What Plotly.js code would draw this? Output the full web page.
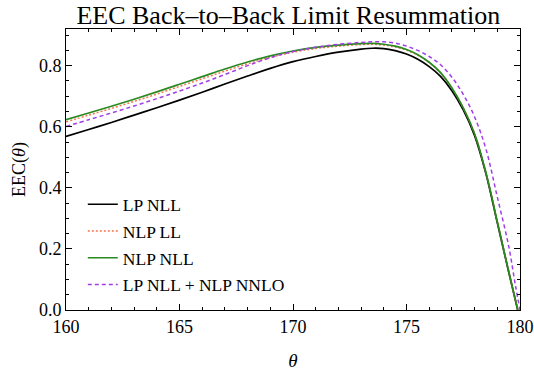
<!DOCTYPE html>
<html>
<head>
<meta charset="utf-8">
<script src="https://cdn.plot.ly/plotly-3.0.1.min.js"></script>
<style>html,body{margin:0;padding:0;background:#fff;}#chart{width:534px;height:378px;}</style>
</head>
<body>
<div id="chart"></div>
<script>
var theta = [160,161,162,163,164,165,166,167,168,169,170,171,172,173,173.5,174,174.5,175,175.5,176,176.5,177,177.5,178,178.5,179,179.5,179.9];
var lpNLL = [0.568,0.591,0.614,0.638,0.662,0.687,0.713,0.740,0.766,0.791,0.813,0.830,0.844,0.854,0.857,0.856,0.849,0.838,0.821,0.797,0.765,0.718,0.655,0.571,0.446,0.286,0.125,0.0];
var nlpLL = [0.616,0.638,0.660,0.683,0.707,0.732,0.757,0.782,0.806,0.827,0.844,0.856,0.864,0.869,0.870,0.867,0.861,0.851,0.834,0.810,0.776,0.727,0.662,0.577,0.450,0.289,0.127,0.0];
var nlpNLL = [0.623,0.645,0.667,0.690,0.714,0.739,0.764,0.789,0.812,0.832,0.848,0.860,0.867,0.872,0.873,0.870,0.864,0.853,0.836,0.811,0.777,0.727,0.662,0.577,0.450,0.289,0.127,0.0];
var thetaP = [160,161,162,163,164,165,166,167,168,169,170,171,172,173,173.5,174,174.5,175,175.5,176,176.5,177,177.5,178,178.5,179,179.5,179.8,180];
var lpNLLnlpNNLO = [0.601,0.623,0.645,0.668,0.692,0.717,0.743,0.771,0.800,0.826,0.846,0.860,0.870,0.876,0.878,0.878,0.874,0.864,0.850,0.830,0.803,0.762,0.706,0.632,0.527,0.370,0.210,0.080,0.0];
var names = ["LP NLL","NLP LL","NLP NLL","LP NLL + NLP NNLO"];

var serif = "Liberation Serif, Times New Roman, serif";
var traces = [
  {x: theta, y: lpNLL, name: names[0], line:{color:"#000000", width:1.7}},
  {x: theta, y: nlpLL, name: names[1], line:{color:"#f4764f", width:1.5, dash:"2px,2px"}},
  {x: theta, y: nlpNLL, name: names[2], line:{color:"#2a8a22", width:1.7}},
  {x: thetaP, y: lpNLLnlpNNLO, name: names[3], line:{color:"#a23ee8", width:1.5, dash:"4px,3px"}}
].map(function(t,i){t.type="scatter";t.mode="lines";t.line.shape="spline";t.legendgroup="g"+i;return t;});

var axCommon = {
  showline:true, mirror:"ticks", linecolor:"#000", linewidth:1,
  ticks:"inside", ticklen:6, tickwidth:1, tickcolor:"#000",
  showgrid:false, zeroline:false,
  tickfont:{family:serif, size:18, color:"#000"}
};
var layout = {
  width:534, height:378,
  margin:{l:66, r:14, t:29, b:67.5},
  paper_bgcolor:"#fff", plot_bgcolor:"#fff",
  title:{text:"EEC Back–to–Back Limit Resummation", font:{family:serif, size:26, color:"#000"},
    x:0.54, xref:"container", xanchor:"center", y:0.96, yref:"container", yanchor:"middle"},
  xaxis: Object.assign({}, axCommon, {range:[160,180], dtick:5, tick0:160,
    minor:{dtick:1, ticks:"inside", ticklen:3, tickcolor:"#000"},
    title:{text:"<i>θ</i>", font:{family:serif, size:19, color:"#000"}, standoff:18}}),
  yaxis: Object.assign({}, axCommon, {range:[0,0.92], dtick:0.2, tick0:0, tickformat:".1f",
    minor:{dtick:0.05, ticks:"inside", ticklen:3, tickcolor:"#000"},
    title:{text:"EEC(<i>θ</i>)", font:{family:serif, size:18, color:"#000"}, standoff:8}}),
  showlegend:true,
  legend:{x:0.037, y:0.44, xanchor:"left", yanchor:"top", bgcolor:"rgba(0,0,0,0)",
    traceorder:"grouped", tracegroupgap:1, font:{family:serif, size:17.5, color:"#000"}}
};
Plotly.newPlot("chart", traces, layout, {staticPlot:true});
</script>
</body>
</html>
